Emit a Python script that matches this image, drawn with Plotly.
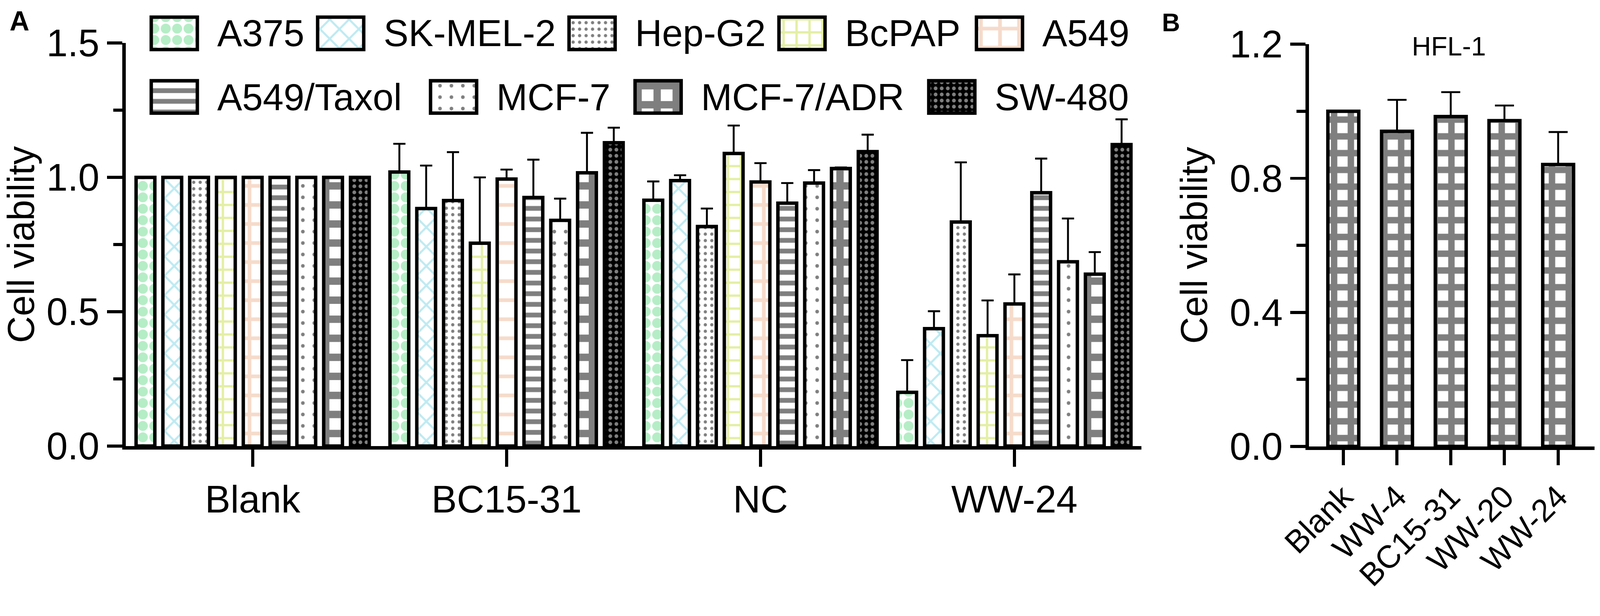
import plotly.graph_objects as go

# ---------------- data ----------------
groups = ["Blank", "BC15-31", "NC", "WW-24"]
series = ["A375", "SK-MEL-2", "Hep-G2", "BcPAP", "A549",
          "A549/Taxol", "MCF-7", "MCF-7/ADR", "SW-480"]

a375 = [1.0, 1.020, 0.915, 0.200]
skmel2 = [1.0, 0.884, 0.988, 0.437]
hepg2 = [1.0, 0.914, 0.817, 0.834]
bcpap = [1.0, 0.755, 1.089, 0.411]
a549 = [1.0, 0.994, 0.983, 0.529]
a549taxol = [1.0, 0.925, 0.904, 0.943]
mcf7 = [1.0, 0.840, 0.979, 0.686]
mcf7adr = [1.0, 1.017, 1.033, 0.640]
sw480 = [1.0, 1.129, 1.096, 1.122]

a375_err = [0.0, 0.105, 0.070, 0.120]
skmel2_err = [0.0, 0.160, 0.020, 0.065]
hepg2_err = [0.0, 0.180, 0.067, 0.222]
bcpap_err = [0.0, 0.245, 0.104, 0.131]
a549_err = [0.0, 0.035, 0.070, 0.110]
a549taxol_err = [0.0, 0.141, 0.075, 0.127]
mcf7_err = [0.0, 0.081, 0.048, 0.161]
mcf7adr_err = [0.0, 0.149, 0.004, 0.082]
sw480_err = [0.0, 0.056, 0.063, 0.094]

hfl_groups = ["Blank", "WW-4", "BC15-31", "WW-20", "WW-24"]
hfl_values = [1.0, 0.940, 0.984, 0.972, 0.841]
hfl_err = [0.0, 0.094, 0.073, 0.045, 0.097]

yticks_a = [0.0, 0.5, 1.0, 1.5]
yticks_b = [0.0, 0.4, 0.8, 1.2]

values = [a375, skmel2, hepg2, bcpap, a549, a549taxol, mcf7, mcf7adr, sw480]
errors = [a375_err, skmel2_err, hepg2_err, bcpap_err, a549_err,
          a549taxol_err, mcf7_err, mcf7adr_err, sw480_err]

# ---------------- styles ----------------
W, H = 4200, 1577
FONT = "Liberation Sans, Arial, Helvetica, sans-serif"
patterns = [
    dict(shape=".", fgcolor="#6cdb8e", bgcolor="white", size=30, solidity=0.6),
    dict(shape="x", fgcolor="#7fd6e6", bgcolor="white", size=36, solidity=0.28),
    dict(shape=".", fgcolor="black", bgcolor="white", size=17, solidity=0.2),
    dict(shape="+", fgcolor="#c9e04c", bgcolor="white", size=34, solidity=0.33),
    dict(shape="+", fgcolor="#eeb898", bgcolor="white", size=50, solidity=0.35),
    dict(shape="-", fgcolor="black", bgcolor="white", size=28, solidity=0.45),
    dict(shape=".", fgcolor="black", bgcolor="white", size=30, solidity=0.08),
    dict(shape="+", fgcolor="black", bgcolor="white", size=50, solidity=0.62),
    dict(shape=".", fgcolor="white", bgcolor="black", size=16, solidity=0.3),
]
checker_b = dict(shape="+", fgcolor="black", bgcolor="white", size=44, solidity=0.62)

BORDER = 9
fig = go.Figure()

# ---------------- panel A ----------------
for name, vals, errs, pat in zip(series, values, errors, patterns):
    fig.add_trace(go.Bar(
        x=groups, y=vals, name=name, xaxis="x", yaxis="y",
        marker=dict(color="white", pattern=pat, line=dict(color="black", width=BORDER)),
        error_y=dict(type="data", array=errs, arrayminus=[0] * len(errs), symmetric=False,
                     color="black", thickness=5, width=16),
        showlegend=False,
    ))

# ---------------- panel B ----------------
fig.add_trace(go.Bar(
    x=hfl_groups, y=hfl_values, name="HFL-1", xaxis="x2", yaxis="y2", width=0.575,
    marker=dict(color="white", pattern=checker_b, line=dict(color="black", width=BORDER)),
    error_y=dict(type="data", array=hfl_err, arrayminus=[0] * len(hfl_err), symmetric=False,
                 color="black", thickness=5, width=25),
    showlegend=False,
))

# ---------------- custom legend (large swatches) ----------------
char_w = {"A": .667, "B": .667, "C": .722, "D": .722, "E": .667, "F": .611, "G": .778,
          "H": .722, "K": .667, "L": .556, "M": .833, "P": .667, "R": .722, "S": .667,
          "T": .611, "W": .944, "a": .556, "c": .5, "e": .556, "l": .222, "o": .556,
          "p": .556, "x": .5, "-": .333, "/": .278}
LEG_FONT = 98
SW_W, SW_H, SW_GAP = 121, 85, 58
ROW_LEFT, ROW_RIGHT = 397, 2971
ROW_TOPS = [45, 212]
rows = [series[:5], series[5:]]

def text_w(s):
    return sum(char_w.get(c, .556) for c in s) * LEG_FONT

annotations = []
for r, row in enumerate(rows):
    items = [SW_W + SW_GAP + text_w(s) for s in row]
    gap = (ROW_RIGHT - ROW_LEFT - sum(items)) / (len(row) - 1)
    xpos = ROW_LEFT
    for s, iw in zip(row, items):
        pat = patterns[series.index(s)]
        fig.add_trace(go.Bar(
            x=[xpos], y=[SW_H], base=[ROW_TOPS[r]], width=[SW_W], offset=0,
            xaxis="x3", yaxis="y3", name=s, showlegend=False, hoverinfo="skip",
            marker=dict(color="white", pattern=pat, line=dict(color="black", width=BORDER)),
        ))
        annotations.append(dict(
            text=s, xref="paper", yref="paper",
            x=(xpos + SW_W + SW_GAP - 8) / W, y=1 - (ROW_TOPS[r] + SW_H / 2) / H,
            xanchor="left", yanchor="middle", showarrow=False,
            font=dict(size=LEG_FONT, color="black", family=FONT)))
        xpos += iw + gap

annotations += [
    dict(text="<b>A</b>", xref="paper", yref="paper", x=51 / W, y=1 - 55 / H,
         xanchor="center", yanchor="middle", showarrow=False,
         font=dict(size=72, color="black", family=FONT)),
    dict(text="<b>B</b>", xref="paper", yref="paper", x=3074 / W, y=1 - 59 / H,
         xanchor="center", yanchor="middle", showarrow=False,
         font=dict(size=66, color="black", family=FONT)),
    dict(text="HFL-1", xref="paper", yref="paper", x=3803 / W, y=1 - 122 / H,
         xanchor="center", yanchor="middle", showarrow=False,
         font=dict(size=70, color="black", family=FONT)),
]

axis_common = dict(showline=True, linecolor="black", linewidth=BORDER, showgrid=False,
                   zeroline=False, ticks="outside", tickwidth=8, tickcolor="black",
                   automargin=False,
                   tickfont=dict(size=100, color="black", family=FONT))

fig.update_layout(
    width=W, height=H, margin=dict(l=0, r=0, t=0, b=0, autoexpand=False),
    paper_bgcolor="white", plot_bgcolor="rgba(0,0,0,0)",
    barmode="group", bargap=0.05, bargroupgap=0.3,
    font=dict(family=FONT, color="black"),
    showlegend=False,
    annotations=annotations,
    xaxis=dict(**axis_common, domain=[330 / W, 2996 / W], anchor="y",
               range=[-0.5, 3.5], ticklen=45),
    yaxis=dict(**axis_common, domain=[1 - 1171 / H, 1 - 113 / H], anchor="x",
               range=[0, 1.5], tickvals=yticks_a, ticktext=[f"{v:.1f}" for v in yticks_a],
               ticklen=40, minor=dict(dtick=0.25, ticks="outside", ticklen=24,
                                      tickwidth=8, tickcolor="black", showgrid=False),
               title=dict(text="Cell viability", standoff=30,
                          font=dict(size=98, color="black", family=FONT))),
    xaxis2=dict(**{**axis_common, "tickfont": dict(size=84, color="black", family=FONT)},
                domain=[3436 / W, 4186 / W], anchor="y2",
                range=[-0.64, 4.68], ticklen=40, tickangle=-45),
    yaxis2=dict(**axis_common, domain=[1 - 1172 / H, 1 - 116 / H], anchor="x2",
                range=[0, 1.2], tickvals=yticks_b, ticktext=[f"{v:.1f}" for v in yticks_b],
                ticklen=40, minor=dict(dtick=0.2, ticks="outside", ticklen=24,
                                       tickwidth=8, tickcolor="black", showgrid=False),
                title=dict(text="Cell viability", standoff=30,
                           font=dict(size=98, color="black", family=FONT))),
    xaxis3=dict(domain=[0, 1], range=[0, W], visible=False, anchor="y3",
                fixedrange=True, automargin=False),
    yaxis3=dict(domain=[0, 1], range=[H, 0], visible=False, anchor="x3",
                fixedrange=True, automargin=False),
)

# fit the fixed-size figure into whatever viewport the page is opened in
fit_js = (
    "document.documentElement.style.margin='0';"
    "document.body.style.margin='0';document.body.style.overflow='hidden';"
    "var gd=document.getElementById('{plot_id}');"
    "var s=Math.min(window.innerWidth/%d, window.innerHeight/%d);"
    "gd.style.transformOrigin='0 0';gd.style.transform='scale('+s+')';" % (W, H)
)

fig.write_html("out.html", post_script=fit_js, config={"displayModeBar": False})
